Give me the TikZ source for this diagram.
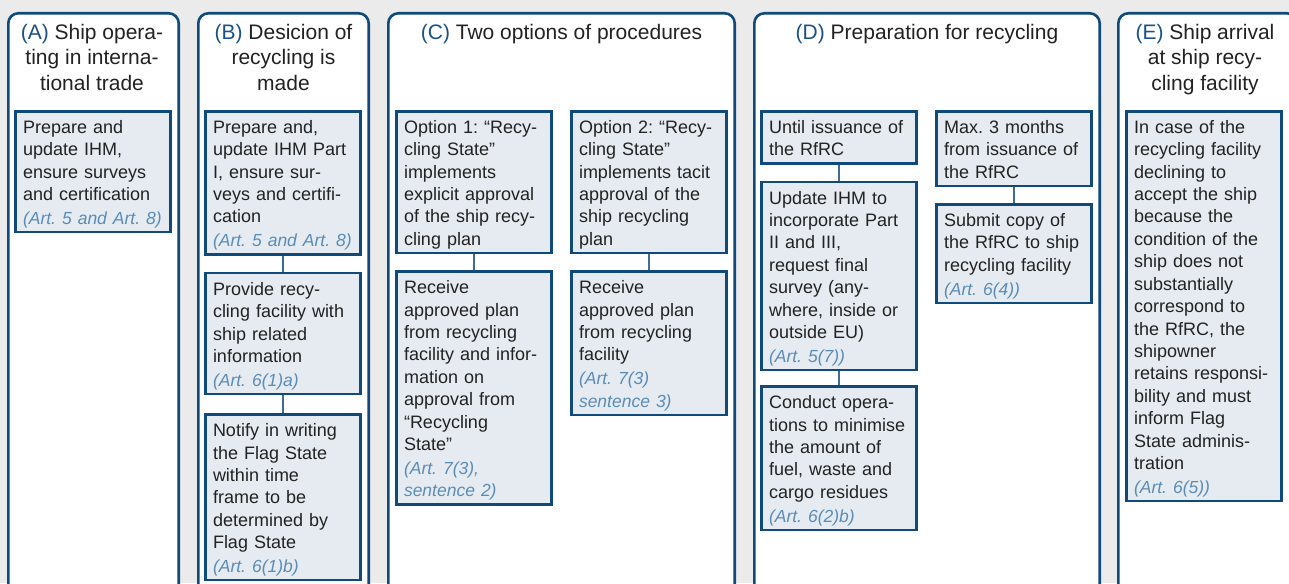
\documentclass[tikz,border=0pt]{standalone}
\usepackage{fontspec}
\setmainfont{Liberation Sans}
\usetikzlibrary{positioning}

\definecolor{bggray}{HTML}{EBEBEB}
\definecolor{navy}{HTML}{0F4A7A}
\definecolor{boxfill}{HTML}{E6EBF1}
\definecolor{artblue}{HTML}{5A8CB8}
\definecolor{letterblue}{HTML}{1A5285}
\definecolor{linkblue}{HTML}{3D6D96}
\definecolor{inktext}{HTML}{222222}

\newcommand{\colid}[1]{{\color{letterblue}(#1)}}
\newcommand{\art}[1]{\\[1.5pt]{\fontsize{17.5}{22.4}\selectfont\itshape\color{artblue}#1}}
\newcommand{\firststrut}{\rule{0pt}{15.5pt}}
\newcommand{\boxtail}{\rule[-4pt]{0pt}{4pt}\par\kern-3pt}
\frenchspacing

\begin{document}
\begin{tikzpicture}[x=1pt, y=1pt, node distance=16pt,
    head/.style = {anchor=north, inner sep=0pt, align=center, text=inktext,
      font=\fontsize{21}{25.3}\selectfont},
    task/.style = {draw=navy, line width=2.6pt, fill=boxfill, text=inktext,
      inner xsep=7.7pt, inner ysep=6.6pt, text width=140pt, align=left,
      font=\fontsize{18}{22.4}\selectfont\frenchspacing,
      execute at begin node=\firststrut, execute at end node=\boxtail},
    column/.style = {draw=navy, line width=2.6pt, fill=white, rounded corners=10pt},
    link/.style = {draw=linkblue, line width=1.5pt}]
  \useasboundingbox (0,0) rectangle (1289,-583);
  \fill[bggray] (0,0) rectangle (1289,-583);

  % columns
  \draw[column] (8.3,-13.3) rectangle (178.7,-620);
  \draw[column] (198.3,-13.3) rectangle (368.7,-620);
  \draw[column] (388.3,-13.3) rectangle (734.7,-620);
  \draw[column] (754.3,-13.3) rectangle (1099.7,-620);
  \draw[column] (1118.3,-13.3) rectangle (1297,-620);

  % headings
  \node[head] (ha) at (92,-24) {\colid{A} Ship opera-\\ting in interna-\\tional trade};
  \node[head] (hb) at (283.5,-24) {\colid{B} Desicion of\\recycling is\\made};
  \node[head] (hc) at (561.5,-24) {\colid{C} Two options of procedures};
  \node[head] (hd) at (927,-24) {\colid{D} Preparation for recycling};
  \node[head] (he) at (1205,-24) {\colid{E} Ship arrival\\at ship recy-\\cling facility};

  % (A)
  \node[task, anchor=north west] (a1) at (14,-110) {Prepare and\\update IHM,\\ensure surveys\\and certification\art{(Art. 5 and Art. 8)}};

  % (B)
  \node[task, anchor=north west] (b1) at (204,-110) {Prepare and,\\update IHM Part\\I, ensure sur-\\veys and certifi-\\cation\art{(Art. 5 and Art. 8)}};
  \node[task] (b2) [below=of b1] {Provide recy-\\cling facility with\\ship related\\information\art{(Art. 6(1)a)}};
  \node[task] (b3) [below=18pt of b2] {Notify in writing\\the Flag State\\within time\\frame to be\\determined by\\Flag State\art{(Art. 6(1)b)}};

  % (C)
  \node[task, anchor=north west] (c1) at (395,-110) {Option 1: “Recy-\\cling State”\\implements\\explicit approval\\of the ship recy-\\cling plan};
  \node[task, anchor=north west] (c2) at (570,-110) {Option 2: “Recy-\\cling State”\\implements tacit\\approval of the\\ship recycling\\plan};
  \node[task] (c1b) [below=of c1] {Receive\\approved plan\\from recycling\\facility and infor-\\mation on\\approval from\\“Recycling\\State”\art{(Art. 7(3),\\sentence 2)}};
  \node[task] (c2b) [below=of c2] {Receive\\approved plan\\from recycling\\facility\art{(Art. 7(3)\\sentence 3)}};

  % (D)
  \node[task, anchor=north west] (d1) at (760,-110) {Until issuance of\\the RfRC};
  \node[task, anchor=north west] (d2) at (935,-110) {Max. 3 months\\from issuance of\\the RfRC};
  \node[task] (d1b) [below=of d1] {Update IHM to\\incorporate Part\\II and III,\\request final\\survey (any-\\where, inside or\\outside EU)\art{(Art. 5(7))}};
  \node[task] (d1c) [below=14pt of d1b] {Conduct opera-\\tions to minimise\\the amount of\\fuel, waste and\\cargo residues\art{(Art. 6(2)b)}};
  \node[task] (d2b) [below=of d2] {Submit copy of\\the RfRC to ship\\recycling facility\art{(Art. 6(4))}};

  % (E)
  \node[task, anchor=north west] (e1) at (1125,-110) {In case of the\\recycling facility\\declining to\\accept the ship\\because the\\condition of the\\ship does not\\substantially\\correspond to\\the RfRC, the\\shipowner\\retains responsi-\\bility and must\\inform Flag\\State adminis-\\tration\art{(Art. 6(5))}};

  % links
  \draw[link] (b1) -- (b2);
  \draw[link] (b2) -- (b3);
  \draw[link] (c1) -- (c1b);
  \draw[link] (c2) -- (c2b);
  \draw[link] (d1) -- (d1b);
  \draw[link] (d1b) -- (d1c);
  \draw[link] (d2) -- (d2b);
\end{tikzpicture}
\end{document}
